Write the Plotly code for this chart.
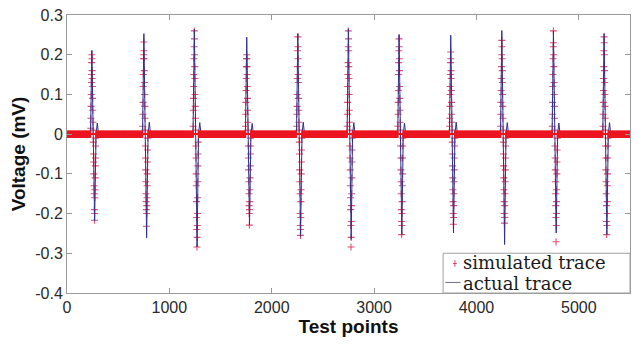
import plotly.graph_objects as go

# ---------------- data ----------------
x_ticks = [0, 1000, 2000, 3000, 4000, 5000]
y_ticks = [0.3, 0.2, 0.1, 0.0, -0.1, -0.2, -0.3, -0.4]
y_tick_labels = ["0.3", "0.2", "0.1", "0", "-0.1", "-0.2", "-0.3", "-0.4"]
legend_labels = ["simulated trace", "actual trace"]

x_end = 5500
baseline_step = 4

# spike onset positions (test points)
spike_pos = [242, 750, 1243, 1755, 2254, 2748, 3243, 3748, 4247, 4751, 5246]

# actual trace: peak, trough and small after-bump of each spike
act_peak = [0.211, 0.253, 0.264, 0.244, 0.253, 0.265, 0.251, 0.249, 0.261, 0.260, 0.253]
act_trough = [-0.218, -0.261, -0.284, -0.229, -0.257, -0.265, -0.253, -0.249, -0.278, -0.249, -0.253]
act_bump = [0.028, 0.030, 0.029, 0.027, 0.030, 0.029, 0.028, 0.030, 0.029, 0.028, 0.029]
# sample offsets of the actual waveform: start, peak, zero, trough, zero, bump, end
act_offsets = [-12, 1, 14, 28, 42, 54, 66]

# simulated trace: samples of positive lobe and negative lobe of each spike
up_offsets = [-10, -8.5, -7, -5.5, -4, -2.5, -1, 0.5, 2, 3.5, 5, 6.5, 8, 9.5, 11, 12.5]
dn_offsets = [16, 17.5, 19, 20.5, 22, 23.5, 25, 26.5, 28, 29.5, 31, 32.5, 34, 35.5, 37, 38.5]

sim_up = [
    [0.015, 0.04, 0.07, 0.10, 0.13, 0.15, 0.18, 0.20, 0.19, 0.16, 0.14, 0.12, 0.09, 0.06, 0.03, 0.01],
    [0.02, 0.05, 0.08, 0.12, 0.15, 0.19, 0.20, 0.232, 0.21, 0.19, 0.16, 0.13, 0.10, 0.07, 0.04, 0.01],
    [0.02, 0.06, 0.09, 0.12, 0.15, 0.19, 0.22, 0.26, 0.24, 0.20, 0.17, 0.14, 0.10, 0.07, 0.04, 0.01],
    [0.02, 0.05, 0.08, 0.11, 0.14, 0.17, 0.19, 0.20, 0.19, 0.17, 0.15, 0.12, 0.09, 0.06, 0.03, 0.01],
    [0.02, 0.05, 0.07, 0.10, 0.14, 0.17, 0.21, 0.245, 0.22, 0.19, 0.15, 0.13, 0.09, 0.06, 0.03, 0.01],
    [0.02, 0.05, 0.08, 0.12, 0.15, 0.18, 0.22, 0.26, 0.24, 0.21, 0.17, 0.14, 0.10, 0.06, 0.03, 0.01],
    [0.02, 0.05, 0.08, 0.11, 0.15, 0.18, 0.21, 0.24, 0.22, 0.19, 0.16, 0.12, 0.09, 0.06, 0.03, 0.01],
    [0.02, 0.04, 0.07, 0.10, 0.12, 0.15, 0.18, 0.207, 0.19, 0.16, 0.14, 0.11, 0.08, 0.05, 0.03, 0.01],
    [0.02, 0.05, 0.08, 0.11, 0.14, 0.17, 0.20, 0.236, 0.22, 0.19, 0.16, 0.13, 0.10, 0.07, 0.04, 0.01],
    [0.02, 0.05, 0.08, 0.12, 0.15, 0.19, 0.22, 0.26, 0.23, 0.20, 0.17, 0.13, 0.10, 0.07, 0.04, 0.01],
    [0.02, 0.05, 0.08, 0.11, 0.14, 0.17, 0.21, 0.245, 0.23, 0.20, 0.16, 0.13, 0.10, 0.07, 0.04, 0.01],
]
sim_dn = [
    [-0.02, -0.05, -0.07, -0.10, -0.13, -0.15, -0.19, -0.217, -0.20, -0.16, -0.14, -0.11, -0.08, -0.06, -0.03, -0.01],
    [-0.03, -0.06, -0.09, -0.12, -0.15, -0.17, -0.19, -0.232, -0.20, -0.18, -0.16, -0.13, -0.10, -0.07, -0.04, -0.01],
    [-0.03, -0.06, -0.10, -0.13, -0.17, -0.21, -0.24, -0.284, -0.26, -0.23, -0.20, -0.16, -0.12, -0.08, -0.05, -0.02],
    [-0.03, -0.06, -0.09, -0.12, -0.15, -0.18, -0.20, -0.229, -0.19, -0.17, -0.14, -0.11, -0.08, -0.05, -0.03, -0.01],
    [-0.02, -0.05, -0.09, -0.12, -0.15, -0.20, -0.23, -0.255, -0.24, -0.21, -0.17, -0.14, -0.10, -0.07, -0.04, -0.01],
    [-0.03, -0.06, -0.09, -0.13, -0.16, -0.19, -0.23, -0.284, -0.26, -0.22, -0.18, -0.15, -0.11, -0.07, -0.04, -0.01],
    [-0.03, -0.06, -0.09, -0.12, -0.15, -0.19, -0.22, -0.253, -0.23, -0.20, -0.17, -0.13, -0.10, -0.06, -0.03, -0.01],
    [-0.02, -0.05, -0.08, -0.11, -0.14, -0.17, -0.20, -0.227, -0.21, -0.18, -0.15, -0.12, -0.09, -0.06, -0.03, -0.01],
    [-0.02, -0.05, -0.08, -0.11, -0.14, -0.17, -0.20, -0.224, -0.21, -0.18, -0.15, -0.12, -0.09, -0.06, -0.03, -0.01],
    [-0.03, -0.06, -0.09, -0.12, -0.15, -0.18, -0.21, -0.271, -0.23, -0.20, -0.17, -0.14, -0.10, -0.07, -0.04, -0.01],
    [-0.03, -0.06, -0.09, -0.12, -0.15, -0.18, -0.22, -0.253, -0.23, -0.20, -0.17, -0.13, -0.10, -0.06, -0.03, -0.01],
]

# ---------------- build series ----------------
ax, ay = [0], [0.0]
for i, p in enumerate(spike_pos):
    vals = [0.0, act_peak[i], 0.0, act_trough[i], 0.0, act_bump[i], 0.0]
    for o, v in zip(act_offsets, vals):
        ax.append(p + o)
        ay.append(v)
ax.append(x_end)
ay.append(0.0)

sx, sy = [], []
for i, p in enumerate(spike_pos):
    for o, v in zip(up_offsets, sim_up[i]):
        sx.append(p + o)
        sy.append(v)
    for o, v in zip(dn_offsets, sim_dn[i]):
        sx.append(p + o)
        sy.append(v)

bx = []
for t in range(0, x_end + 1, baseline_step):
    if any(p + up_offsets[0] <= t <= p + dn_offsets[-1] for p in spike_pos):
        continue
    bx.append(t)
by = [0.0] * len(bx)

RED = "rgb(236,22,32)"
SPIKE_RED = "rgba(215,35,75,0.8)"
BLUE = "rgb(48,48,140)"
LEG_GRAY = "rgb(110,110,140)"

fig = go.Figure()
fig.add_trace(go.Scatter(
    x=sx, y=sy, mode="markers", name=legend_labels[0], showlegend=False,
    marker=dict(symbol="cross-thin", size=5, line=dict(color=SPIKE_RED, width=1.1), color=SPIKE_RED),
))
fig.add_trace(go.Scatter(
    x=ax, y=ay, mode="lines", name=legend_labels[1], showlegend=False,
    line=dict(color=BLUE, width=1),
))
fig.add_trace(go.Scatter(
    x=bx, y=by, mode="markers", name=legend_labels[0], showlegend=False,
    marker=dict(symbol="cross-thin", size=5, line=dict(color=RED, width=1.6), color=RED),
))

axis_common = dict(
    showgrid=False, zeroline=False, showline=True, linecolor="#9a9a9a", linewidth=1,
    mirror="ticks", ticks="inside", ticklen=5, tickcolor="#9a9a9a", tickwidth=1,
    automargin=False, ticklabeloverflow="allow",
    tickfont=dict(family="Liberation Sans, Arial, sans-serif", size=16, color="#2a2a2a"),
)

# legend box drawn in paper coordinates (matching the MATLAB-style legend)
shapes = [
    dict(type="rect", xref="paper", yref="paper", x0=0.668, x1=1.0, y0=0.0, y1=0.143,
         line=dict(color="#a0a0a0", width=1), fillcolor="white", layer="above"),
    dict(type="line", xref="paper", yref="paper", x0=0.6855, x1=0.6925, y0=0.106, y1=0.106,
         line=dict(color=SPIKE_RED, width=1), layer="above"),
    dict(type="line", xref="paper", yref="paper", x0=0.689, x1=0.689, y0=0.094, y1=0.118,
         line=dict(color=SPIKE_RED, width=1), layer="above"),
    dict(type="line", xref="paper", yref="paper", x0=0.672, x1=0.699, y0=0.038, y1=0.038,
         line=dict(color=LEG_GRAY, width=1), layer="above"),
]
legend_font = dict(family="DejaVu Serif, serif", size=18, color="#1a1a1a")
annotations = [
    dict(text=legend_labels[0], xref="paper", yref="paper", x=0.700, y=0.108,
         xanchor="left", yanchor="middle", showarrow=False, font=legend_font),
    dict(text=legend_labels[1], xref="paper", yref="paper", x=0.700, y=0.034,
         xanchor="left", yanchor="middle", showarrow=False, font=legend_font),
]

# the page body adds an 8px offset, so the figure is 8px smaller and margins shifted
fig.update_layout(
    width=635, height=337,
    margin=dict(l=59, r=13, t=7, b=52),
    paper_bgcolor="white", plot_bgcolor="white",
    showlegend=False,
    shapes=shapes, annotations=annotations,
    xaxis=dict(
        range=[0, x_end], tickvals=x_ticks, ticktext=[str(v) for v in x_ticks],
        title=dict(text="Test points", standoff=4,
                   font=dict(family="Liberation Sans, Arial, sans-serif", size=19,
                             color="#111", weight="bold")),
        **axis_common,
    ),
    yaxis=dict(
        range=[-0.4, 0.3], tickvals=y_ticks, ticktext=y_tick_labels,
        title=dict(text="Voltage (mV)", standoff=6,
                   font=dict(family="Liberation Sans, Arial, sans-serif", size=19,
                             color="#111", weight="bold")),
        **axis_common,
    ),
)

fig.write_html("out.html")
